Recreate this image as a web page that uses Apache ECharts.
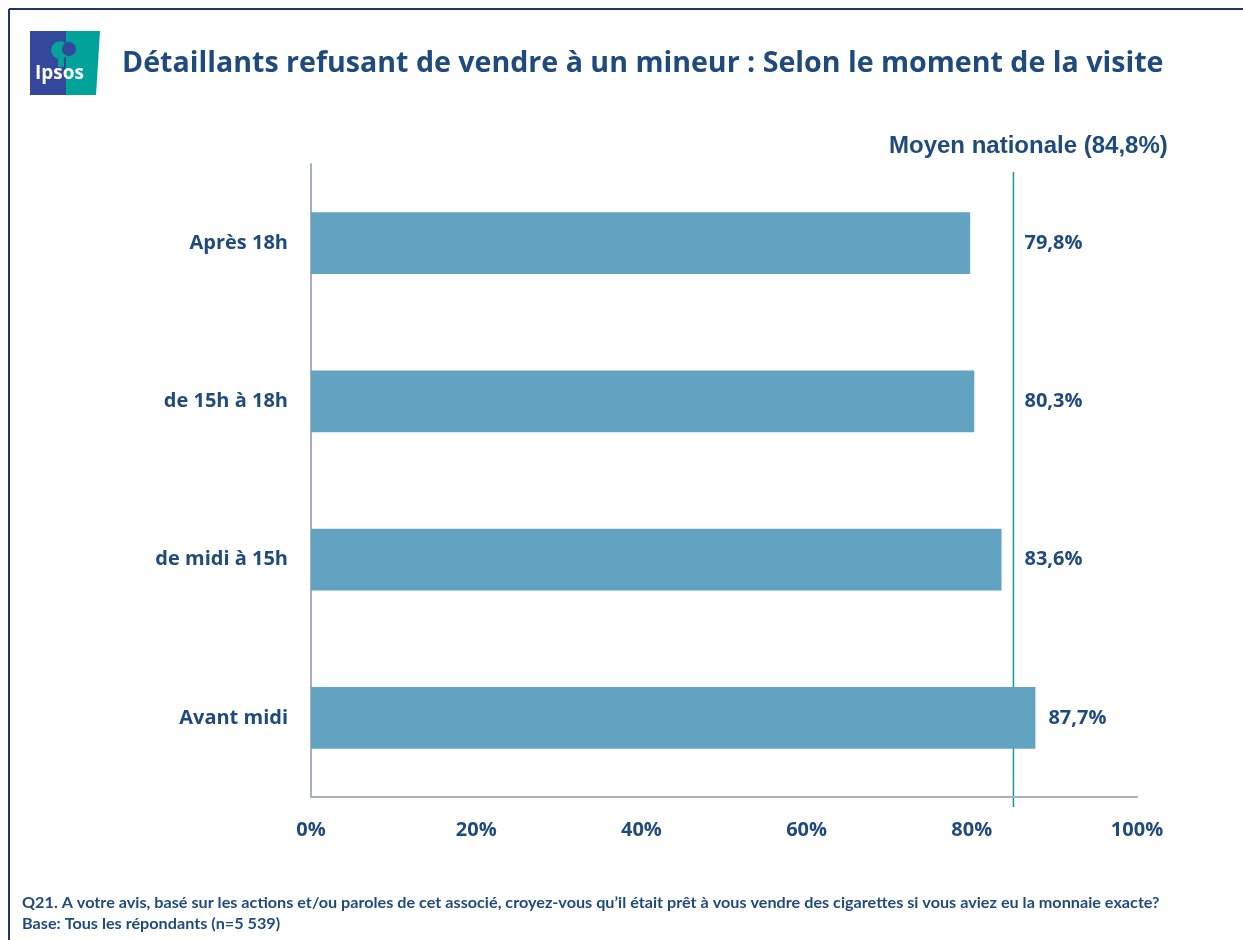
<!DOCTYPE html>
<html>
<head>
<meta charset="utf-8">
<title>Détaillants refusant de vendre à un mineur</title>
<script src="https://cdn.jsdelivr.net/npm/echarts@6/dist/echarts.min.js"></script>
<style>
  html, body { margin: 0; padding: 0; background: #fff; }
  #chart { width: 1243px; height: 940px; }
</style>
</head>
<body>
<div id="chart"></div>
<script>
// données
var categories = ["Après 18h", "de 15h à 18h", "de midi à 15h", "Avant midi"];
var values = [79.8, 80.3, 83.6, 87.7];
var moyenne = 84.8;
var xTicks = [0, 20, 40, 60, 80, 100];

var navy = "#1f4a7e";
var mainFont = "'Open Sans'";
var gridLeft = 311, gridRight = 106, gridTop = 164, gridBottom = 143;
var plotW = 1243 - gridLeft - gridRight;

var myChart = echarts.init(document.getElementById("chart"));

// labels : à droite de la ligne de moyenne si la barre est plus courte
var barData = values.map(function (v) {
  var ref = Math.max(v, moyenne);
  return {
    value: v,
    label: { distance: (ref - v) * plotW / 100 + 13 }
  };
});

var option = {
  animation: false,
  textStyle: { fontFamily: mainFont },
  grid: { left: gridLeft, right: gridRight, top: gridTop, bottom: gridBottom },
  xAxis: {
    type: "value",
    min: xTicks[0],
    max: xTicks[xTicks.length - 1],
    interval: 20,
    axisLine: { show: true, lineStyle: { color: "#a7aebd", width: 2 } },
    axisTick: { show: false },
    splitLine: { show: false },
    axisLabel: {
      formatter: "{value}%",
      color: navy,
      fontSize: 20,
      fontWeight: "bold",
      fontFamily: mainFont,
      margin: 23
    }
  },
  yAxis: {
    type: "category",
    inverse: true,
    data: categories,
    axisLine: { show: true, lineStyle: { color: "#a7aebd", width: 2 } },
    axisTick: { show: false },
    axisLabel: {
      color: navy,
      fontSize: 20,
      fontWeight: "bold",
      fontFamily: mainFont,
      margin: 23
    }
  },
  series: [
    {
      type: "bar",
      data: barData,
      barWidth: "39%",
      itemStyle: { color: "#62a3c2" },
      label: {
        show: true,
        position: "right",
        formatter: function (p) {
          return p.value.toFixed(1).replace(".", ",") + "%";
        },
        color: navy,
        fontSize: 20,
        fontWeight: "bold",
        fontFamily: mainFont
      }
    }
  ]
};
myChart.setOption(option);

// ligne de la moyenne nationale + décor
var xm = myChart.convertToPixel({ xAxisIndex: 0 }, moyenne) + 2;
myChart.setOption({
  graphic: [
    // cadre
    { type: "line", shape: { x1: 9, y1: 9, x2: 1243, y2: 9 }, style: { stroke: "#1c3567", lineWidth: 2 } },
    { type: "line", shape: { x1: 9, y1: 9, x2: 9, y2: 940 }, style: { stroke: "#1c3567", lineWidth: 2 } },
    // logo
    { type: "rect", shape: { x: 30, y: 31, width: 36, height: 64 }, style: { fill: "#33479c" } },
    { type: "polygon", shape: { points: [[66, 31], [100, 31], [96, 95], [66, 95]] }, style: { fill: "#00a29a" } },
    { type: "circle", shape: { cx: 60, cy: 50, r: 9 }, style: { fill: "#00a29a" } },
    { type: "circle", shape: { cx: 69, cy: 49, r: 7 }, style: { fill: "#33479c" } },
    { type: "rect", shape: { x: 58, y: 55, width: 6, height: 12 }, style: { fill: "#00a29a" } },
    { type: "text", left: 35, top: 64, style: { text: "Ipsos", fill: "#fff", font: "bold 19px 'Open Sans'" } },
    // titre
    { type: "text", left: 122, top: 49, style: { text: "Détaillants refusant de vendre à un mineur : Selon le moment de la visite", fill: navy, font: "bold 28.6px 'Open Sans'" } },
    // moyenne
    { type: "line", shape: { x1: xm, y1: 172, x2: xm, y2: 807 }, style: { stroke: "#17979a", lineWidth: 1.5 } },
    { type: "text", left: 889, top: 134, style: { text: "Moyen nationale (84,8%)", fill: navy, font: "bold 24px 'Liberation Sans'" } },
    // notes
    { type: "text", x: 22, y: 896, scaleX: 1.08, style: { text: "Q21. A votre avis, basé sur les actions et/ou paroles de cet associé, croyez-vous qu’il était prêt à vous vendre des cigarettes si vous aviez eu la monnaie exacte?", fill: navy, font: "bold 15px Lato" } },
    { type: "text", x: 22, y: 917, scaleX: 1.08, style: { text: "Base: Tous les répondants (n=5 539)", fill: navy, font: "bold 15px Lato" } }
  ]
});
</script>
</body>
</html>
